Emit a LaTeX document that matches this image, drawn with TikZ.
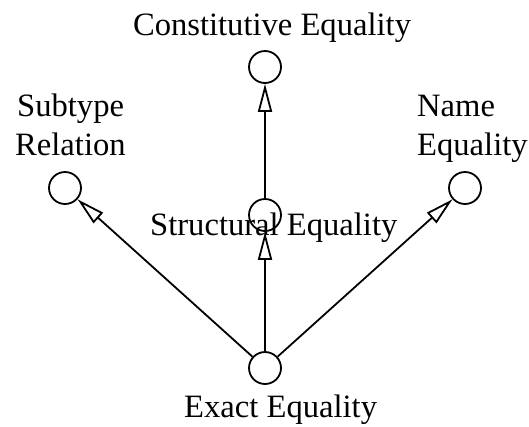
\documentclass[tikz,border=0pt]{standalone}
\usepackage{fontspec}
\setmainfont{Liberation Serif}
\usetikzlibrary{arrows.meta}
\begin{document}
\begin{tikzpicture}[x=1pt,y=-1pt,
  cls/.style={circle,draw,line width=1.8pt,minimum size=32pt,inner sep=0pt,fill=white},
  gen/.style={line width=1.8pt,-{Triangle[open,length=28pt,width=14pt,fill=white]}},
  lbl/.style={font=\fontsize{32.6}{39}\selectfont,inner sep=0pt}]
\useasboundingbox (0,0) rectangle (529,426);
\node[cls] (con) at (265,67) {};
\node[cls] (str) at (265,215) {};
\node[cls] (sub) at (65,188) {};
\node[cls] (nam) at (465,188) {};
\node[cls] (exa) at (265,368) {};
\draw[gen] (exa) -- (sub);
\draw[gen] (exa) -- (nam);
\draw[gen] (exa) -- (str);
\draw[gen] (str) -- (con);
\node[lbl,anchor=base] (lcon) at (272,35) {Constitutive Equality};
\node[lbl,anchor=base west] (lsub1) at (17,116) {Subtype};
\node[lbl,anchor=base west] (lsub2) at (15,155) {Relation};
\node[lbl,anchor=base west] (lnam1) at (417,116) {Name};
\node[lbl,anchor=base west] (lnam2) at (417,155) {Equality};
\node[lbl,anchor=base west] (lstr) at (150,235) {Structural Equality};
\node[lbl,anchor=base west] (lexa) at (184,417) {Exact Equality};
\end{tikzpicture}
\end{document}
